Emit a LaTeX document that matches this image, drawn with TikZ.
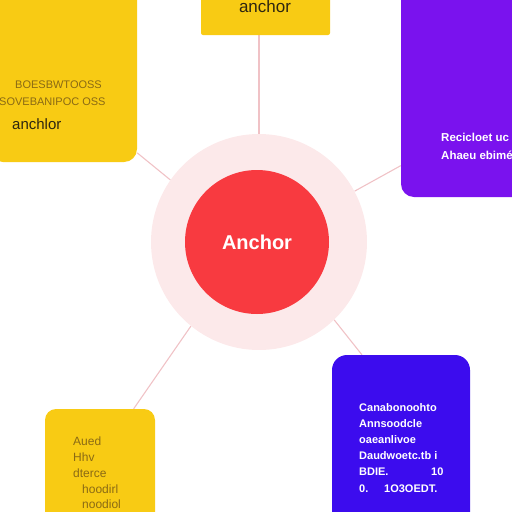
\documentclass[tikz,border=0pt]{standalone}
\usepackage{fontspec}
\setmainfont{Liberation Sans}
\usetikzlibrary{positioning, backgrounds}
\definecolor{boxyellow}{HTML}{F8CB14}
\definecolor{boxpurple}{HTML}{7A12EE}
\definecolor{boxblue}{HTML}{3C0CEE}
\definecolor{anchorred}{HTML}{F83A40}
\definecolor{halopink}{HTML}{FCE9EA}
\definecolor{linkpink}{HTML}{F0C2C6}
\definecolor{inkbrown}{HTML}{8A6A14}
\definecolor{inkdark}{HTML}{2E2610}
\tikzset{
    card/.style={rectangle, rounded corners=13pt, draw=none},
    link/.style={draw=linkpink, line width=1.1pt},
    cardtext/.style={anchor=base west, inner sep=0pt},
}

\begin{document}
\begin{tikzpicture}[x=1pt,y=-1pt]
        \useasboundingbox (0,0) rectangle (512,512);
        \clip (0,0) rectangle (512,512);
        % Central anchor
        \node[circle, fill=halopink, minimum size=216pt] (halo) at (259,242) {};
        \node[circle, fill=anchorred, minimum size=144pt, text=white,
              font=\bfseries\fontsize{20}{24}\selectfont] (core) at (257,242) {Anchor};
        % Cards
        \node[card, fill=boxyellow, minimum width=129pt, minimum height=50pt, rounded corners=2pt] (topbox) at (265.5,10) {};
        \node[card, fill=boxyellow, minimum width=147pt, minimum height=182pt] (tlbox) at (63.5,71) {};
        \node[card, fill=boxpurple, minimum width=129pt, minimum height=217pt] (trbox) at (465.5,88.5) {};
        \node[card, fill=boxblue, minimum width=138pt, minimum height=175pt, rounded corners=15pt] (brbox) at (401,442.5) {};
        \node[card, fill=boxyellow, minimum width=110pt, minimum height=121pt, rounded corners=11pt] (blbox) at (100,469.5) {};
        % Connectors
        \begin{scope}[on background layer]
        \draw[link] (halo.north) -- (halo.north |- topbox.south);
        \draw[link] (halo.145) -- (tlbox.312);
        \draw[link] (halo.28) -- (trbox.230);
        \draw[link] (halo.-46) -- (brbox.114);
        \draw[link] (halo.231) -- (blbox.61);
        \end{scope}
        % Card texts
        \node[anchor=base, inner sep=0pt, text=inkdark, font=\fontsize{17}{20}\selectfont] (toptext) at (265,12) {anchor};
        \node[cardtext, text=inkbrown, font=\fontsize{11}{13}\selectfont] (tl1) at (15,88) {BOESBWTOOSS};
        \node[cardtext, text=inkbrown, font=\fontsize{11}{13}\selectfont] (tl2) at (-1,105) {SOVEBANIPOC OSS};
        \node[cardtext, text=inkdark, font=\fontsize{15}{18}\selectfont] (tl3) at (12,129) {anchlor};
        \node[cardtext, text=white, font=\bfseries\fontsize{11.5}{14}\selectfont] (tr1) at (441,141.5) {Recicloet uc};
        \node[cardtext, text=white, font=\bfseries\fontsize{11.5}{14}\selectfont] (tr2) at (441,159.5) {Ahaeu ebimé};
        \node[cardtext, text=white, font=\bfseries\fontsize{11}{14}\selectfont] (br1) at (359,411.5) {Canabonoohto};
        \node[cardtext, text=white, font=\bfseries\fontsize{11}{14}\selectfont] (br2) at (359,427.5) {Annsoodcle};
        \node[cardtext, text=white, font=\bfseries\fontsize{11}{14}\selectfont] (br3) at (359,443.5) {oaeanlivoe};
        \node[cardtext, text=white, font=\bfseries\fontsize{11}{14}\selectfont] (br4) at (359,459.5) {Daudwoetc.tb i};
        \node[cardtext, text=white, font=\bfseries\fontsize{11}{14}\selectfont] (br5) at (359,475.5) {BDIE.};
        \node[cardtext, text=white, font=\bfseries\fontsize{11}{14}\selectfont] (br5b) at (431,475.5) {10};
        \node[cardtext, text=white, font=\bfseries\fontsize{11}{14}\selectfont] (br6) at (359,492.5) {0.};
        \node[cardtext, text=white, font=\bfseries\fontsize{11}{14}\selectfont] (br6b) at (384,492.5) {1O3OEDT.};
        \node[cardtext, text=inkbrown, font=\fontsize{12}{14}\selectfont] (bl1) at (73,445) {Aued};
        \node[cardtext, text=inkbrown, font=\fontsize{12}{14}\selectfont] (bl2) at (73,461) {Hhv};
        \node[cardtext, text=inkbrown, font=\fontsize{12}{14}\selectfont] (bl3) at (73,477) {dterce};
        \node[cardtext, text=inkbrown, font=\fontsize{12}{14}\selectfont] (bl4) at (82,493) {hoodirl};
        \node[cardtext, text=inkbrown, font=\fontsize{12}{14}\selectfont] (bl5) at (82,508) {noodiol};
    \end{tikzpicture}
\end{document}
